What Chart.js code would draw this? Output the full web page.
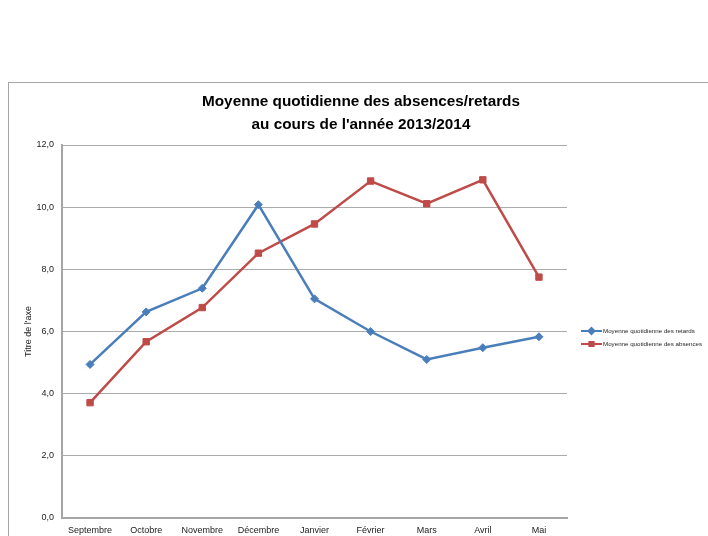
<!DOCTYPE html>
<html lang="fr">
<head>
    <meta charset="UTF-8">
    <title>Moyenne quotidienne des absences/retards</title>
    <script src="https://cdn.jsdelivr.net/npm/chart.js"></script>
    <style>
        html, body { margin: 0; padding: 0; background: #fff; overflow: hidden; }
        #frame { position: absolute; left: 8px; top: 82px; width: 800px; height: 520px; border: 1px solid #a6a6a6; }
        #wrap { position: absolute; left: 0; top: 0; width: 708px; height: 536px; }
    </style>
</head>
<body>
    <div id="frame"></div>
    <div id="wrap"><canvas id="chart" width="708" height="536"></canvas></div>

    <script>
        // data
        const months = ["Septembre", "Octobre", "Novembre", "Décembre", "Janvier", "Février", "Mars", "Avril", "Mai"];
        const retards = [4.94, 6.63, 7.39, 10.08, 7.05, 6.00, 5.10, 5.48, 5.83];
        const absences = [3.71, 5.67, 6.77, 8.52, 9.46, 10.84, 10.11, 10.88, 7.75];
        const titleLines = ["Moyenne quotidienne des absences/retards", "au cours de l'année 2013/2014"];
        const yTitle = "Titre de l'axe";

        const FONT = "'Liberation Sans', Arial, sans-serif";

        // title and legend drawn by hand, Excel style
        const decorPlugin = {
            id: "decor",
            afterDraw(chart) {
                const ctx = chart.ctx;
                ctx.save();
                ctx.fillStyle = "#000";
                ctx.textAlign = "center";
                ctx.textBaseline = "middle";
                ctx.font = "bold 15.3px " + FONT;
                ctx.fillText(titleLines[0], 361, 102);
                ctx.fillText(titleLines[1], 361, 125);

                ctx.textAlign = "left";
                ctx.font = "6.2px " + FONT;
                chart.data.datasets.forEach((ds, i) => {
                    const y = 331 + i * 13;
                    ctx.strokeStyle = ds.borderColor;
                    ctx.lineWidth = 2;
                    ctx.beginPath();
                    ctx.moveTo(581, y);
                    ctx.lineTo(602, y);
                    ctx.stroke();
                    Chart.helpers.drawPoint(ctx, {
                        pointStyle: ds.pointStyle,
                        radius: 3,
                        rotation: 0,
                        borderWidth: 1
                    }, 591.5, y);
                    ctx.fillStyle = ds.borderColor;
                    ctx.fill();
                    ctx.fillStyle = "#222";
                    ctx.fillText(ds.label, 603, y);
                });
                ctx.restore();
            }
        };

        new Chart(document.getElementById("chart"), {
            type: "line",
            data: {
                labels: months,
                datasets: [
                    {
                        label: "Moyenne quotidienne des retards",
                        data: retards,
                        borderColor: "#4a7ebb",
                        backgroundColor: "#4a7ebb",
                        borderWidth: 2.5,
                        pointStyle: "rectRot",
                        pointRadius: 4,
                        pointBorderWidth: 1,
                        tension: 0
                    },
                    {
                        label: "Moyenne quotidienne des absences",
                        data: absences,
                        borderColor: "#be4b48",
                        backgroundColor: "#be4b48",
                        borderWidth: 2.5,
                        pointStyle: "rect",
                        pointRadius: 4.5,
                        pointBorderWidth: 1,
                        tension: 0
                    }
                ]
            },
            options: {
                responsive: false,
                animation: false,
                devicePixelRatio: 1,
                layout: { padding: { top: 145, right: 141, bottom: 0, left: 0 } },
                plugins: {
                    legend: { display: false },
                    title: { display: false },
                    tooltip: { enabled: false }
                },
                scales: {
                    x: {
                        offset: true,
                        afterFit(scale) { scale.height = 18; },
                        grid: { display: false, drawTicks: false },
                        border: { display: true, color: "#a6a6a6", width: 2 },
                        ticks: { color: "#222", font: { family: FONT, size: 9 }, padding: 7, maxRotation: 0, autoSkip: false }
                    },
                    y: {
                        min: 0,
                        max: 12,
                        afterFit(scale) { scale.width = 62; },
                        grid: { color: "#ababab", lineWidth: 1, drawTicks: false },
                        border: { display: true, color: "#a6a6a6", width: 2 },
                        ticks: {
                            stepSize: 2,
                            color: "#222",
                            padding: 8,
                            font: { family: FONT, size: 9 },
                            callback: v => v.toFixed(1).replace(".", ",")
                        },
                        title: {
                            display: true,
                            text: yTitle,
                            color: "#222",
                            font: { family: FONT, size: 9 },
                            padding: { top: 23, bottom: 0 }
                        }
                    }
                }
            },
            plugins: [decorPlugin]
        });
    </script>
</body>
</html>
